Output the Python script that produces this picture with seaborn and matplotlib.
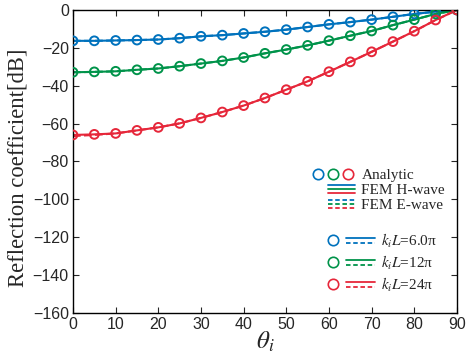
import matplotlib
matplotlib.use("Agg")
import matplotlib.pyplot as plt
import seaborn as sns
import pandas as pd
from matplotlib.legend_handler import HandlerBase
from matplotlib.lines import Line2D

# incidence angle (deg)
theta = [0, 5, 10, 15, 20, 25, 30, 35, 40, 45, 50, 55, 60, 65, 70, 75, 80, 85, 90]

# reflection coefficient [dB]
blue_h = [-16.3, -16.3, -16.1, -15.9, -15.6, -14.9, -13.9, -13.3, -12.4, -11.5,
          -10.4, -9.0, -7.6, -6.4, -5.1, -3.6, -2.1, -0.9, 0.0]
green_h = [-32.9, -32.7, -32.4, -31.6, -30.9, -29.7, -28.3, -26.9, -25.1, -22.9,
           -20.9, -18.7, -16.2, -13.6, -11.1, -8.0, -5.1, -2.1, 0.0]
red_h = [-66.0, -65.7, -65.2, -63.6, -62.0, -59.9, -57.0, -53.9, -50.5, -46.5,
         -42.1, -37.7, -32.6, -27.4, -22.1, -16.7, -11.2, -5.3, 0.0]

blue_e = blue_h
green_e = green_h
red_e = [-66.6, -66.0, -65.2, -63.6, -62.0, -59.9, -57.0, -53.9, -50.5, -46.5,
         -42.1, -37.7, -32.6, -27.4, -22.1, -16.7, -11.2, -5.3, 0.0]

blue_a = blue_h
green_a = green_h
red_a = red_h

labels = ["6.0π", "12π", "24π"]
colors = ["#0072BD", "#00934A", "#E6273A"]

sns.set_style("ticks")
plt.rcParams["font.family"] = ["Liberation Sans", "DejaVu Sans"]
plt.rcParams["mathtext.fontset"] = "stix"

fig = plt.figure(figsize=(4.77, 3.56), dpi=100)
ax = fig.add_axes([0.153, 0.121, 0.805, 0.851])

series = [(blue_h, blue_e, blue_a), (green_h, green_e, green_a), (red_h, red_e, red_a)]
for (h, e, a), c in zip(series, colors):
    df = pd.DataFrame({"theta": theta, "H": h, "E": e, "A": a})
    sns.lineplot(data=df, x="theta", y="H", color=c, lw=1.5, ax=ax)
    sns.lineplot(data=df, x="theta", y="E", color=c, lw=1.5, ls="--", ax=ax)
    sns.scatterplot(data=df, x="theta", y="A", marker="o", s=40, facecolor="none",
                    edgecolor=c, linewidth=1.4, ax=ax, zorder=3)

ax.set_xlim(0, 90)
ax.set_ylim(-160, 0)
ax.set_xticks(range(0, 91, 10))
ax.set_yticks(range(-160, 1, 20))
ax.tick_params(direction="in", top=True, right=True, length=4, width=0.8,
               labelsize=11.5, pad=3)
for s in ax.spines.values():
    s.set_linewidth(1.0)
    s.set_color("black")

ax.set_xlabel(r"$\theta_i$", fontsize=18, labelpad=-2)
ax.set_ylabel("Reflection coefficient[dB]", fontsize=16.3,
              family=["Liberation Serif"], labelpad=-1)
ax.yaxis.set_label_coords(-0.115, 0.48)


class Glyphs:
    def __init__(self, kind, cols):
        self.kind = kind
        self.cols = cols


class GlyphHandler(HandlerBase):
    def create_artists(self, legend, h, xd, yd, width, height, fontsize, trans):
        arts = []
        x0 = -xd
        ym = height / 2 - yd
        dash = (0, (2.5, 1.5))
        if h.kind == "circles":
            n = len(h.cols)
            for i, c in enumerate(h.cols):
                x = x0 + width * (i + 0.5) / n
                arts.append(Line2D([x], [ym], marker="o", ms=7.5, mfc="none",
                                   mec=c, mew=1.2, ls="none", transform=trans))
        elif h.kind in ("solid", "dashed"):
            ls = "-" if h.kind == "solid" else dash
            for i, c in enumerate(h.cols):
                y = ym + 3.0 * (1 - i)
                arts.append(Line2D([x0 + width * 0.38, x0 + width], [y, y], color=c,
                                   lw=1.3, ls=ls, transform=trans))
        else:
            c = h.cols[0]
            arts.append(Line2D([x0 + 4], [ym], marker="o", ms=7.5, mfc="none",
                               mec=c, mew=1.2, ls="none", transform=trans))
            arts.append(Line2D([x0 + width * 0.4, x0 + width], [ym + 1.8, ym + 1.8],
                               color=c, lw=1.3, transform=trans))
            arts.append(Line2D([x0 + width * 0.4, x0 + width], [ym - 1.8, ym - 1.8],
                               color=c, lw=1.3, ls=dash, transform=trans))
        return arts


hnd = GlyphHandler()
g1 = [Glyphs("circles", colors), Glyphs("solid", colors), Glyphs("dashed", colors)]
leg1 = ax.legend(g1, ["Analytic", "FEM H-wave", "FEM E-wave"],
                 handler_map={Glyphs: hnd}, loc="upper left",
                 bbox_to_anchor=(0.600, 0.503), frameon=False, borderpad=0,
                 handlelength=2.9, handletextpad=0.4, labelspacing=0.1,
                 prop={"family": "Liberation Serif", "size": 11})
ax.add_artist(leg1)

g2 = [Glyphs("row", [c]) for c in colors]
ax.legend(g2, [r"$k_iL$=" + l for l in labels],
          handler_map={Glyphs: hnd}, loc="upper left",
          bbox_to_anchor=(0.643, 0.293), frameon=False, borderpad=0,
          handlelength=3.1, handletextpad=0.4, labelspacing=0.25,
          prop={"family": "Liberation Serif", "size": 11})

fig.savefig("out.png", dpi=100)
